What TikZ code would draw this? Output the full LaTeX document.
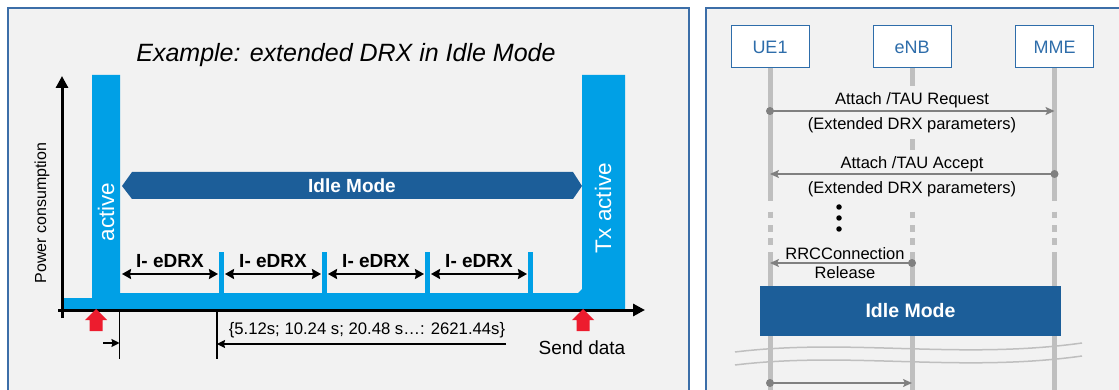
\documentclass[tikz,border=0pt]{standalone}
\usepackage{fontspec}
\setmainfont{Liberation Sans}
\usetikzlibrary{arrows.meta,positioning}

\definecolor{panelbg}{RGB}{242,242,242}
\definecolor{panelline}{RGB}{60,110,168}
\definecolor{powerblue}{RGB}{0,160,230}
\definecolor{idleblue}{RGB}{28,94,153}
\definecolor{sendred}{RGB}{237,28,46}
\definecolor{msggray}{RGB}{128,128,128}
\definecolor{lifegray}{RGB}{191,191,191}
\definecolor{boxtext}{RGB}{46,109,170}

\tikzset{
    panel/.style={draw=panelline,line width=1.2pt,fill=panelbg},
    powaxis/.style={line width=3pt,-{Triangle[length=12pt,width=12pt]}},
    drxspan/.style={line width=2.5pt,{Stealth[length=9pt,width=10pt,inset=1pt]}-{Stealth[length=9pt,width=10pt,inset=1pt]}},
    drxlabel/.style={font=\fontsize{19}{19}\selectfont\bfseries,inner sep=0pt},
    barlabel/.style={rotate=90,text=white,font=\fontsize{22.5}{22.5}\selectfont,inner sep=0pt},
    dimline/.style={line width=1.4pt,-{Stealth[length=8pt,width=8pt,inset=1pt]}},
    actor/.style={draw=boxtext,fill=white,line width=1pt,text=boxtext,minimum width=78pt,minimum height=42pt,font=\fontsize{18}{18}\selectfont},
    lifeline/.style={lifegray,line width=5pt},
    msg/.style={msggray,line width=2pt,-{Stealth[length=9pt,width=8pt,inset=2pt]}},
    msglabel/.style={fill=panelbg,align=center,font=\fontsize{16.5}{25}\selectfont,inner xsep=2pt,inner ysep=6pt},
    startdot/.style={fill=msggray,circle,inner sep=0pt,minimum size=8pt},
    bulletdot/.style={fill=black,circle,inner sep=0pt,minimum size=5.5pt},
    idlebox/.style={fill=idleblue,text=white,minimum width=301pt,minimum height=50pt,font=\fontsize{19.5}{19.5}\selectfont\bfseries},
    breakline/.style={lifegray,line width=1.5pt}
}

\begin{document}
\begin{tikzpicture}[x=1pt,y=-1pt]
    \useasboundingbox (0,0) rectangle (1119,390);
    \clip (0,0) rectangle (1119,390);
    \fill[white] (0,0) rectangle (1119,390);
    \draw[panel] (8,8) rectangle (689,400);
    \draw[panel] (706,8) rectangle (1130,400);

    \node[font=\fontsize{25}{25}\selectfont\itshape] (title) at (346,55) {Example: extended DRX in Idle Mode};

    \fill[powerblue] (63,309) -- (63,298) -- (92,298) -- (92,75) -- (120,75) -- (120,293) -- (578,293) -- (582,289) -- (582,75) -- (625,75) -- (625,309) -- cycle;
    \foreach \x in {221,324,427,530}
        \fill[powerblue] (\x-2.5,252) rectangle (\x+2.5,294);

    \node[barlabel] (active) at (106,212) {active};
    \node[barlabel] (txactive) at (603,208) {Tx active};

    \draw[powaxis] (62,318) -- (62,76);
    \draw[powaxis] (58,310) -- (645,310);
    \node[rotate=90,font=\fontsize{16}{16}\selectfont] (ylabel) at (42,213) {Power consumption};

    \fill[idleblue] (122,186) -- (132,172) -- (573,172) -- (582,186) -- (573,199) -- (132,199) -- cycle;
    \node[text=white,font=\fontsize{19}{19}\selectfont\bfseries] (idlemode) at (352,186) {Idle Mode};

    \foreach \i/\x in {1/120,2/223,3/326,4/429} {
        \coordinate (drx\i a) at (\x+2,274);
        \coordinate (drx\i b) at (\x+98,274);
        \draw[drxspan] (drx\i a) -- (drx\i b);
        \node[drxlabel] (drxtext\i) at (\x+50,261) {I- eDRX};
    }

    \coordinate (wake) at (96,309);
    \coordinate (send) at (583,309);
    \foreach \p in {wake,send}
        \fill[sendred] (\p) -- ++(11,11) -- ++(-4.5,0) -- ++(0,11) -- ++(-13,0) -- ++(0,-11) -- ++(-4.5,0) -- cycle;
    \node[font=\fontsize{19}{19}\selectfont] (senddata) at (582,348) {Send data};

    \coordinate (t0) at (119.5,311);
    \coordinate (t1) at (217,311);
    \draw[line width=1.4pt] (t0) -- ++(0,48);
    \draw[line width=1.4pt] (t1) -- ++(0,48);
    \draw[dimline] (103,343) -- (t0 |- 0,343);
    \draw[dimline] (506,344) -- (t1 |- 0,344);
    \node[font=\fontsize{16.7}{16.7}\selectfont] (period) at (367,330) {\{5.12s; 10.24 s; 20.48 s…: 2621.44s\}};

    \node[actor] (ue) at (770,47) {UE1};
    \node[actor] (enb) at (912,47) {eNB};
    \node[actor] (mme) at (1054.5,47) {MME};
    \foreach \a in {ue,enb,mme} {
        \draw[lifeline] (\a.south) -- (\a.south |- 0,201);
        \draw[lifeline,dash pattern=on 6.7pt off 6.7pt] (\a.south |- 0,211.7) -- (\a.south |- 0,245.2);
        \draw[lifeline] (\a.south |- 0,252) -- (\a.south |- 0,400);
    }

    \node[msglabel] (reqtext) at (enb.south |- 0,112.5) {Attach /TAU Request\\(Extended DRX parameters)};
    \node[startdot] (reqdot) at (ue.south |- 0,111) {};
    \coordinate (reqend) at (mme.south |- 0,111);
    \draw[msg] (reqdot.center) -- (reqend);

    \node[msglabel] (acctext) at (enb.south |- 0,176.5) {Attach /TAU Accept\\(Extended DRX parameters)};
    \node[startdot] (accdot) at (mme.south |- 0,174) {};
    \coordinate (accend) at (ue.south |- 0,174);
    \draw[msg] (accdot.center) -- (accend);

    \foreach \y in {207,218,229}
        \node[bulletdot] at (839,\y) {};

    \node[msglabel,font=\fontsize{16.5}{19}\selectfont,inner ysep=1pt] (rrctext) at (845,263) {RRCConnection\\Release};
    \node[startdot] (rrcdot) at (enb.south |- 0,263) {};
    \coordinate (rrcend) at (ue.south |- 0,263);
    \draw[msg] (rrcdot.center) -- (rrcend);

    \node[idlebox] (idlebox) at (910.5,311) {Idle Mode};

    \draw[breakline] (735,352) .. controls (850,338) and (960,360) .. (1082,343);
    \draw[breakline] (735,365) .. controls (850,351) and (960,373) .. (1082,356);

    \node[startdot] (nextdot) at (ue.south |- 0,383) {};
    \coordinate (nextend) at (enb.south |- 0,383);
    \draw[msg] (nextdot.center) -- (nextend);
\end{tikzpicture}
\end{document}
